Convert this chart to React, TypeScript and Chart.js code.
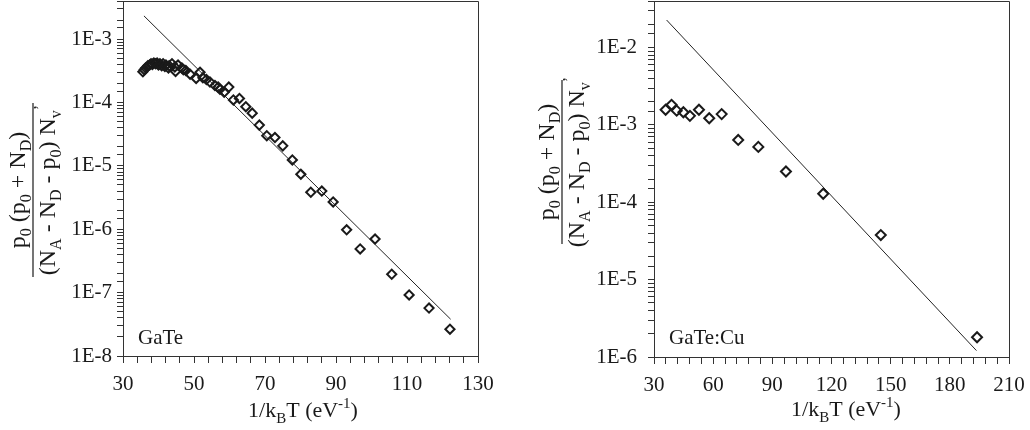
import React, { useEffect, useRef } from 'react';
import { Chart, registerables } from 'chart.js';

Chart.register(...registerables);

// ---------- Data: GaTe (left panel) ----------
const gateX = [
  35.6, 36.0, 36.4, 37.0, 37.5, 37.9, 38.3, 38.7, 39.2, 39.6, 40.0, 40.4, 40.9, 41.3, 41.8, 42.1,
  42.8, 43.0, 43.8, 44.6, 44.8, 45.5, 46.6, 47.0, 47.7, 48.9, 50.6, 51.7, 52.5, 53.5, 54.5, 55.9,
  56.8, 57.3, 58.5, 59.8, 61.1, 62.8, 64.6, 66.4, 68.4, 70.5, 72.8, 75.0, 77.7, 80.1, 82.9, 86.0,
  89.2, 93.0, 96.8, 101.0, 105.7, 110.6, 116.2, 122.1,
];
const gateY = [
  3.05e-4, 3.3e-4, 3.5e-4, 3.8e-4, 3.9e-4, 4.1e-4, 4.0e-4, 4.2e-4, 4.1e-4, 4.2e-4, 3.9e-4, 4.1e-4, 3.8e-4, 4.1e-4, 3.7e-4, 3.9e-4,
  3.5e-4, 3.8e-4, 4.1e-4, 3.65e-4, 3.1e-4, 3.9e-4, 3.5e-4, 3.3e-4, 3.2e-4, 2.8e-4, 2.4e-4, 3.0e-4, 2.45e-4, 2.3e-4, 2.1e-4, 1.85e-4,
  1.75e-4, 1.62e-4, 1.45e-4, 1.75e-4, 1.1e-4, 1.16e-4, 8.6e-5, 6.8e-5, 4.4e-5, 3.0e-5, 2.8e-5, 2.07e-5, 1.24e-5, 7.4e-6, 3.84e-6, 4.0e-6,
  2.7e-6, 9.8e-7, 4.9e-7, 7.0e-7, 1.95e-7, 9.2e-8, 5.7e-8, 2.65e-8,
];
const gateFitX = [35.9, 122.3];
const gateFitY = [2.33e-3, 3.8e-8];

// ---------- Data: GaTe:Cu (right panel) ----------
const cuX = [35.9, 38.9, 41.5, 44.9, 48.2, 52.8, 58.0, 64.3, 72.7, 82.9, 96.9, 115.8, 145.0, 193.8];
const cuY = [1.57e-3, 1.82e-3, 1.53e-3, 1.46e-3, 1.31e-3, 1.57e-3, 1.22e-3, 1.38e-3, 6.4e-4, 5.2e-4, 2.5e-4, 1.29e-4, 3.77e-5, 1.8e-6];
const cuFitX = [36.4, 193.5];
const cuFitY = [2.27e-2, 1.21e-6];

// ---------- Tick labels ----------
const gateXLabels = [30, 50, 70, 90, 110, 130];
const gateXMinorStep = 4;
const cuXLabels = [30, 60, 90, 120, 150, 180, 210];
const cuXMinorStep = 6;
const gateYRange = [1e-8, 4e-3];
const cuYRange = [1e-6, 4e-2];

const gateTag = 'GaTe';
const cuTag = 'GaTe:Cu';

type Seg = { t: string; k?: 'sub' | 'sup' };
const yNum: Seg[] = [
  { t: 'p' }, { t: '0', k: 'sub' }, { t: ' (p' }, { t: '0', k: 'sub' }, { t: ' + N' }, { t: 'D', k: 'sub' }, { t: ')' },
];
const yDen: Seg[] = [
  { t: '(N' }, { t: 'A', k: 'sub' }, { t: ' - N' }, { t: 'D', k: 'sub' }, { t: ' - p' }, { t: '0', k: 'sub' },
  { t: ') N' }, { t: 'v', k: 'sub' }, { t: '\u2019', k: 'sup' },
];
const xTitleSegs: Seg[] = [
  { t: '1/k' }, { t: 'B', k: 'sub' }, { t: 'T (eV' }, { t: '-1', k: 'sup' }, { t: ')' },
];

const FAMILY = '"Liberation Serif", "Times New Roman", serif';
const INK = '#1a1a1a';
const AXIS = '#333';

function segFont(size: number, k?: string) {
  const s = k ? Math.round(size * 0.66) : size;
  return `${s}px ${FAMILY}`;
}
function segsWidth(ctx: CanvasRenderingContext2D, segs: Seg[], size: number) {
  let w = 0;
  for (const s of segs) {
    ctx.font = segFont(size, s.k);
    w += ctx.measureText(s.t).width;
  }
  return w;
}
function drawSegs(ctx: CanvasRenderingContext2D, segs: Seg[], x: number, y: number, size: number) {
  let cx = x;
  ctx.textBaseline = 'alphabetic';
  ctx.textAlign = 'left';
  for (const s of segs) {
    ctx.font = segFont(size, s.k);
    const dy = s.k === 'sub' ? size * 0.27 : s.k === 'sup' ? -size * 0.4 : 0;
    ctx.fillText(s.t, cx, y + dy);
    cx += ctx.measureText(s.t).width;
  }
}

type PanelCfg = {
  xs: number[]; ys: number[]; fx: number[]; fy: number[];
  xMin: number; xMax: number; xLabels: number[]; xStep: number;
  yRange: number[];
  yW: number; padRight: number; xH: number; top: number; yPad: number;
  radius: number;
  lineX: number; lineCy: number; lineHalf: number;
  titleCx: number; titleBase: number;
  tag: string; tagX: number; tagBase: number;
};

function zeroPad(s: any) {
  s.paddingTop = 0;
  s.paddingBottom = 0;
  s.paddingLeft = 0;
  s.paddingRight = 0;
}

function makeChart(canvas: HTMLCanvasElement, c: PanelCfg) {
  const decor = {
    id: 'decor',
    afterDraw(chart: any) {
      const ctx: CanvasRenderingContext2D = chart.ctx;
      const a = chart.chartArea;
      ctx.save();
      // frame top + right
      ctx.strokeStyle = AXIS;
      ctx.lineWidth = 1;
      ctx.beginPath();
      ctx.moveTo(a.left, a.top + 0.5);
      ctx.lineTo(a.right + 0.5, a.top + 0.5);
      ctx.lineTo(a.right + 0.5, a.bottom);
      ctx.stroke();
      ctx.fillStyle = INK;
      // y label fraction
      const fs = 24;
      ctx.save();
      ctx.translate(c.lineX, c.lineCy);
      ctx.rotate(-Math.PI / 2);
      ctx.strokeStyle = INK;
      ctx.lineWidth = 1.2;
      ctx.beginPath();
      ctx.moveTo(-c.lineHalf, 0);
      ctx.lineTo(c.lineHalf, 0);
      ctx.stroke();
      const wN = segsWidth(ctx, yNum, fs);
      drawSegs(ctx, yNum, -wN / 2, -8, fs);
      const wD = segsWidth(ctx, yDen, fs);
      drawSegs(ctx, yDen, -wD / 2, 22, fs);
      ctx.restore();
      // x title
      const ts = 22;
      const wT = segsWidth(ctx, xTitleSegs, ts);
      drawSegs(ctx, xTitleSegs, c.titleCx - wT / 2, c.titleBase, ts);
      // tag
      ctx.font = `21px ${FAMILY}`;
      ctx.textAlign = 'left';
      ctx.textBaseline = 'alphabetic';
      ctx.fillText(c.tag, c.tagX, c.tagBase);
      ctx.restore();
    },
  };

  return new Chart(canvas, {
    type: 'scatter',
    data: {
      datasets: [
        {
          data: c.xs.map((x, i) => ({ x, y: c.ys[i] })),
          showLine: false,
          pointStyle: 'rectRot',
          pointRadius: c.radius,
          pointBorderWidth: 2,
          borderColor: INK,
          backgroundColor: 'rgba(0,0,0,0)',
          pointBackgroundColor: 'rgba(0,0,0,0)',
          pointBorderColor: INK,
        },
        {
          data: c.fx.map((x, i) => ({ x, y: c.fy[i] })),
          showLine: true,
          pointRadius: 0,
          borderColor: '#222',
          borderWidth: 1,
        },
      ],
    },
    options: {
      responsive: false,
      animation: false,
      events: [],
      layout: { autoPadding: false, padding: { top: c.top, right: c.padRight, left: 0, bottom: 0 } },
      plugins: { legend: { display: false }, tooltip: { enabled: false }, title: { display: false } },
      scales: {
        x: {
          type: 'linear',
          min: c.xMin,
          max: c.xMax,
          afterFit: (s: any) => { s.height = c.xH; zeroPad(s); },
          afterBuildTicks: (s: any) => {
            const t = [];
            for (let v = c.xMin; v <= c.xMax + 1e-9; v += c.xStep) t.push({ value: v });
            s.ticks = t;
          },
          ticks: {
            autoSkip: false,
            maxRotation: 0,
            padding: 9,
            color: INK,
            font: { family: FAMILY, size: 21 },
            callback: (v: any) => (c.xLabels.indexOf(Math.round(Number(v))) >= 0 ? String(Math.round(Number(v))) : ''),
          },
          grid: { drawOnChartArea: false, drawTicks: true, tickLength: 7, color: AXIS, lineWidth: 1 },
          border: { display: true, color: AXIS, width: 1 },
        },
        y: {
          type: 'logarithmic',
          min: c.yRange[0],
          max: c.yRange[1],
          afterFit: (s: any) => { s.width = c.yW; zeroPad(s); },
          ticks: {
            autoSkip: false,
            padding: c.yPad,
            color: INK,
            font: { family: FAMILY, size: 21 },
            callback: (v: any) => {
              const l = Math.log10(Number(v));
              return Math.abs(l - Math.round(l)) < 1e-6 ? '1E' + Math.round(l) : '';
            },
          },
          grid: { drawOnChartArea: false, drawTicks: true, tickLength: 6, color: AXIS, lineWidth: 1 },
          border: { display: true, color: AXIS, width: 1 },
        },
      },
    },
    plugins: [decor],
  } as any);
}

export default function App() {
  const leftRef = useRef<HTMLCanvasElement>(null);
  const rightRef = useRef<HTMLCanvasElement>(null);

  useEffect(() => {
    const left = makeChart(leftRef.current!, {
      xs: gateX, ys: gateY, fx: gateFitX, fy: gateFitY,
      xMin: 30, xMax: 130, xLabels: gateXLabels, xStep: gateXMinorStep,
      yRange: gateYRange,
      yW: 123, padRight: 37, xH: 74, top: 1, yPad: 5,
      radius: 4.6,
      lineX: 33, lineCy: 190, lineHalf: 87,
      titleCx: 303, titleBase: 417,
      tag: gateTag, tagX: 138, tagBase: 344,
    });
    const right = makeChart(rightRef.current!, {
      xs: cuX, ys: cuY, fx: cuFitX, fy: cuFitY,
      xMin: 30, xMax: 210, xLabels: cuXLabels, xStep: cuXMinorStep,
      yRange: cuYRange,
      yW: 139, padRight: 21, xH: 73, top: 1, yPad: 11,
      radius: 5,
      lineX: 47, lineCy: 162, lineHalf: 82,
      titleCx: 331, titleBase: 416,
      tag: cuTag, tagX: 154, tagBase: 344,
    });
    return () => {
      left.destroy();
      right.destroy();
    };
  }, []);

  return (
    <div style={{ position: 'absolute', left: 0, top: 0, width: 1030, height: 430, background: '#fff' }}>
      <canvas ref={leftRef} width={515} height={430} style={{ position: 'absolute', left: 0, top: 0, width: 515, height: 430 }} />
      <canvas ref={rightRef} width={515} height={430} style={{ position: 'absolute', left: 515, top: 0, width: 515, height: 430 }} />
    </div>
  );
}
